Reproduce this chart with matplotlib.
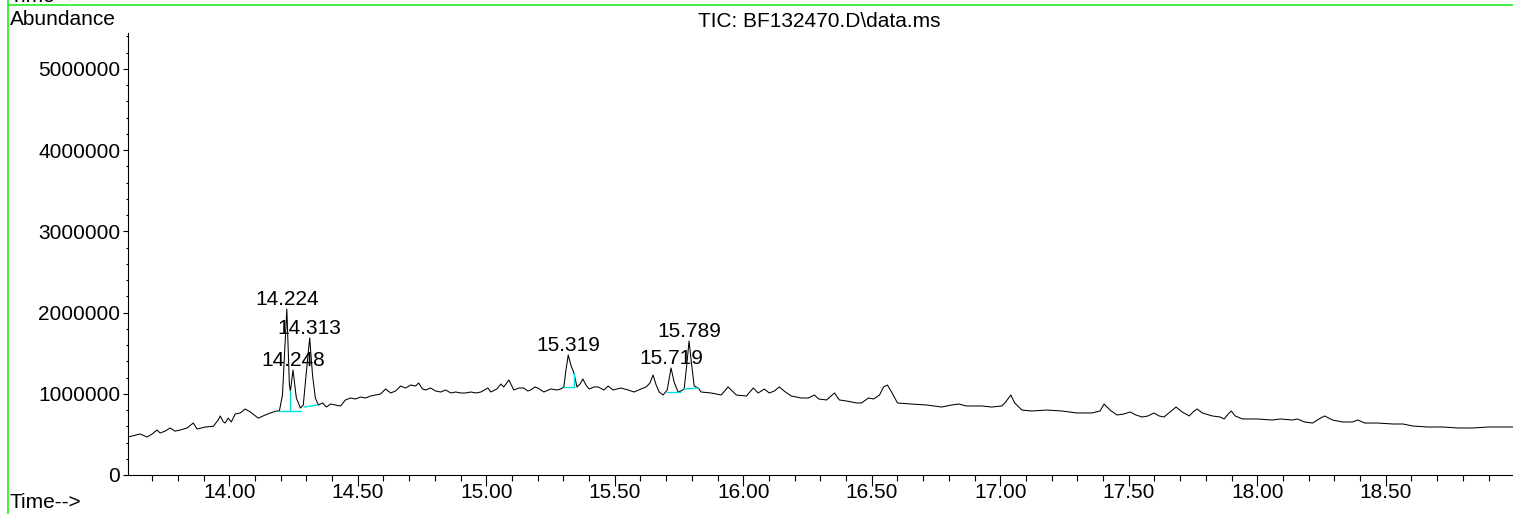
import matplotlib
matplotlib.use('Agg')
import matplotlib.pyplot as plt
from matplotlib.lines import Line2D
from matplotlib.ticker import MultipleLocator, FuncFormatter

plt.rcParams['font.family'] = ['Liberation Sans', 'DejaVu Sans']

# TIC trace (time in min, abundance in millions)
times = [13.606, 13.634, 13.653, 13.680, 13.700, 13.719, 13.731, 13.750, 13.770, 13.789,
         13.809, 13.836, 13.860, 13.875, 13.906, 13.938, 13.957, 13.965, 13.977, 13.984,
         13.996, 14.008, 14.023, 14.043, 14.062, 14.082, 14.113, 14.140, 14.160, 14.183,
         14.195, 14.207, 14.224, 14.234, 14.238, 14.248, 14.261, 14.277, 14.288, 14.300,
         14.313, 14.324, 14.335, 14.347, 14.363, 14.378, 14.394, 14.413, 14.433, 14.452,
         14.472, 14.491, 14.511, 14.530, 14.550, 14.569, 14.589, 14.608, 14.628, 14.647,
         14.667, 14.686, 14.706, 14.725, 14.737, 14.752, 14.764, 14.784, 14.803, 14.823,
         14.842, 14.862, 14.881, 14.901, 14.920, 14.940, 14.959, 14.979, 15.006, 15.018,
         15.041, 15.057, 15.068, 15.088, 15.107, 15.127, 15.146, 15.162, 15.173, 15.189,
         15.201, 15.224, 15.251, 15.275, 15.290, 15.302, 15.310, 15.319, 15.329, 15.341,
         15.353, 15.365, 15.376, 15.388, 15.400, 15.419, 15.435, 15.458, 15.474, 15.493,
         15.524, 15.552, 15.575, 15.602, 15.622, 15.637, 15.649, 15.661, 15.673, 15.688,
         15.704, 15.719, 15.731, 15.746, 15.758, 15.770, 15.782, 15.789, 15.797, 15.809,
         15.825, 15.836, 15.875, 15.914, 15.941, 15.973, 16.012, 16.039, 16.058, 16.082,
         16.101, 16.121, 16.140, 16.164, 16.187, 16.226, 16.253, 16.277, 16.293, 16.324,
         16.355, 16.374, 16.402, 16.441, 16.460, 16.487, 16.507, 16.530, 16.546, 16.561,
         16.577, 16.600, 16.655, 16.713, 16.772, 16.811, 16.838, 16.869, 16.928, 16.967,
         17.006, 17.021, 17.041, 17.056, 17.084, 17.123, 17.181, 17.240, 17.298, 17.357,
         17.388, 17.404, 17.427, 17.454, 17.481, 17.505, 17.528, 17.552, 17.575, 17.598,
         17.618, 17.637, 17.661, 17.684, 17.708, 17.735, 17.750, 17.766, 17.786, 17.825,
         17.856, 17.871, 17.887, 17.899, 17.914, 17.942, 18.000, 18.059, 18.090, 18.137,
         18.156, 18.184, 18.215, 18.246, 18.262, 18.293, 18.332, 18.371, 18.391, 18.418,
         18.469, 18.528, 18.567, 18.606, 18.664, 18.723, 18.781, 18.840, 18.898, 18.957,
         19.000]
abund = [0.468, 0.490, 0.505, 0.468, 0.505, 0.554, 0.517, 0.540, 0.579, 0.540,
         0.554, 0.579, 0.640, 0.566, 0.591, 0.600, 0.677, 0.727, 0.653, 0.640,
         0.700, 0.653, 0.751, 0.764, 0.813, 0.776, 0.700, 0.739, 0.764, 0.788,
         0.788, 0.985, 2.044, 1.108, 1.034, 1.293, 0.948, 0.825, 0.862, 1.268,
         1.687, 1.230, 0.948, 0.862, 0.887, 0.837, 0.874, 0.862, 0.850, 0.924,
         0.948, 0.936, 0.960, 0.948, 0.973, 0.985, 0.998, 1.059, 1.010, 1.034,
         1.096, 1.071, 1.108, 1.096, 1.133, 1.059, 1.047, 1.071, 1.034, 1.022,
         1.047, 1.010, 1.022, 1.010, 1.010, 1.022, 1.010, 1.022, 1.071, 1.022,
         1.059, 1.121, 1.084, 1.170, 1.047, 1.071, 1.071, 1.034, 1.047, 1.084,
         1.071, 1.022, 1.059, 1.047, 1.059, 1.084, 1.293, 1.478, 1.355, 1.256,
         1.084, 1.121, 1.182, 1.108, 1.059, 1.084, 1.084, 1.047, 1.096, 1.047,
         1.071, 1.047, 1.022, 1.059, 1.084, 1.133, 1.232, 1.108, 1.022, 0.985,
         1.047, 1.318, 1.145, 1.022, 1.034, 1.059, 1.416, 1.650, 1.416, 1.096,
         1.071, 1.022, 1.010, 0.985, 1.084, 0.985, 0.973, 1.071, 1.010, 1.059,
         1.010, 1.034, 1.084, 1.022, 0.973, 0.948, 0.948, 0.985, 0.936, 0.924,
         1.010, 0.924, 0.911, 0.887, 0.887, 0.948, 0.936, 0.985, 1.084, 1.108,
         1.022, 0.887, 0.874, 0.862, 0.837, 0.862, 0.874, 0.850, 0.850, 0.837,
         0.850, 0.899, 0.985, 0.887, 0.800, 0.788, 0.800, 0.788, 0.764, 0.764,
         0.788, 0.874, 0.800, 0.739, 0.751, 0.776, 0.739, 0.714, 0.727, 0.764,
         0.727, 0.714, 0.776, 0.837, 0.776, 0.727, 0.776, 0.813, 0.764, 0.727,
         0.714, 0.690, 0.751, 0.788, 0.727, 0.690, 0.690, 0.677, 0.690, 0.677,
         0.690, 0.653, 0.640, 0.700, 0.727, 0.677, 0.653, 0.653, 0.677, 0.640,
         0.640, 0.628, 0.628, 0.603, 0.591, 0.591, 0.579, 0.579, 0.591, 0.591,
         0.591]

# integrated peaks: label, apex height (millions)
peak_labels = ['14.224', '14.248', '14.313', '15.319', '15.719', '15.789']
peak_heights = [2.044, 1.293, 1.687, 1.478, 1.318, 1.650]

# integration baselines (cyan), each a polyline of (time, abundance in millions)
base_t = [[14.195, 14.281], [14.238, 14.238], [14.292, 14.343],
          [15.302, 15.341], [15.341, 15.341], [15.704, 15.754], [15.770, 15.825]]
base_v = [[0.788, 0.788], [0.788, 1.034], [0.837, 0.862],
          [1.084, 1.084], [1.084, 1.256], [1.022, 1.022], [1.059, 1.071]]

W, H = 1513, 514
fig = plt.figure(figsize=(W / 100, H / 100), dpi=100)
ax = fig.add_axes([128 / W, 1 - 475 / H, (W - 128) / W, (475 - 33) / H])

ax.plot(times, [v * 1e6 for v in abund], color='black', lw=0.75)
for bt, bv in zip(base_t, base_v):
    ax.plot(bt, [v * 1e6 for v in bv], color='#00dede', lw=1.0)

for lab, h in zip(peak_labels, peak_heights):
    ax.annotate(lab, xy=(float(lab), h * 1e6), xytext=(0, 3), textcoords='offset points',
                ha='center', va='baseline', fontsize=15)

ax.set_xlim(13.606, 18.995)
ax.set_ylim(0, 5.443e6)
for s in ['top', 'right']:
    ax.spines[s].set_visible(False)
ax.spines['left'].set_linewidth(0.8)
ax.spines['bottom'].set_linewidth(0.8)

ax.xaxis.set_major_locator(MultipleLocator(0.5))
ax.xaxis.set_minor_locator(MultipleLocator(0.1))
ax.yaxis.set_major_locator(MultipleLocator(1e6))
ax.yaxis.set_minor_locator(MultipleLocator(2e5))
ax.xaxis.set_major_formatter(FuncFormatter(lambda x, p: f'{x:.2f}'))
ax.yaxis.set_major_formatter(FuncFormatter(lambda y, p: f'{int(round(y))}'))
ax.tick_params(axis='x', which='major', length=8, width=0.8, labelsize=15, pad=-2)
ax.tick_params(axis='x', which='minor', length=4, width=0.8)
ax.tick_params(axis='y', which='major', length=3.5, width=0.8, labelsize=15, pad=2)
ax.tick_params(axis='y', which='minor', length=1.5, width=0.8)

fig.text(10 / W, 1 - 25 / H, 'Abundance', fontsize=15, va='baseline', ha='left')
fig.text(819 / W, 1 - 27 / H, 'TIC: BF132470.D\\data.ms', fontsize=15, va='baseline', ha='center')
fig.text(10 / W, 1 - 508 / H, 'Time-->', fontsize=15, va='baseline', ha='left')
fig.text(10 / W, 1 - 2 / H, 'Time-->', fontsize=15, va='baseline', ha='left')

green = '#22ee22'
fig.add_artist(Line2D([8 / W, 1], [1 - 5 / H, 1 - 5 / H], color=green, lw=1.2, transform=fig.transFigure))
fig.add_artist(Line2D([8 / W, 8 / W], [0, 1], color=green, lw=1.2, transform=fig.transFigure))

fig.savefig('out.png', dpi=100)
